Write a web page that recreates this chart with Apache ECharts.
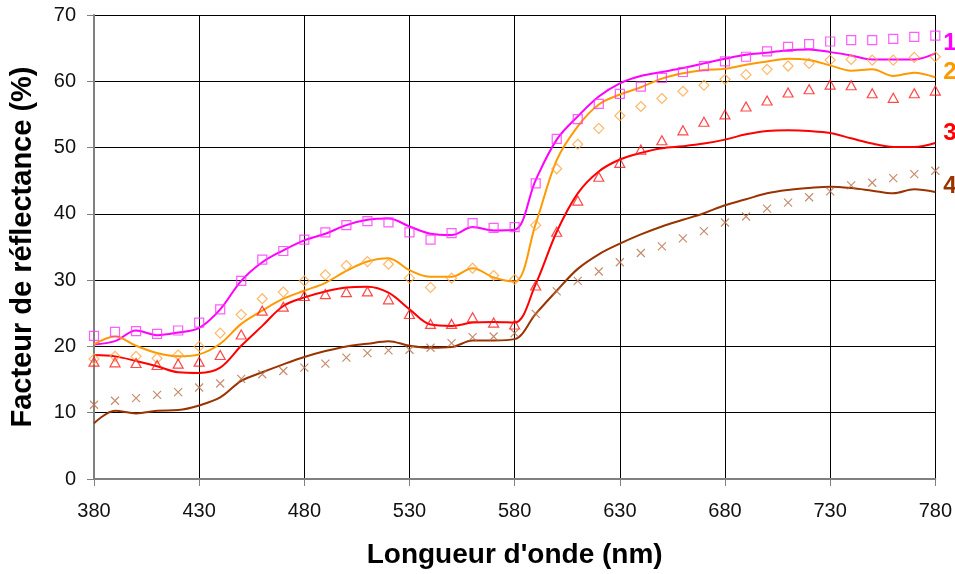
<!DOCTYPE html>
<html>
<head>
<meta charset="utf-8">
<script src="https://cdn.jsdelivr.net/npm/echarts@6/dist/echarts.min.js"></script>
<style>html,body{margin:0;padding:0;background:#fff}#c{width:955px;height:574px}</style>
</head>
<body>
<div id="c"></div>
<script>
const wavelengths = [380,390,400,410,420,430,440,450,460,470,480,490,500,510,520,530,540,550,560,570,580,590,600,610,620,630,640,650,660,670,680,690,700,710,720,730,740,750,760,770,780];
const xTicks = [380,430,480,530,580,630,680,730,780];
const yTicks = [0,10,20,30,40,50,60,70];
const seriesNames = ['1','2','3','4'];

const line1 = [20.3,20.8,22.4,21.7,22.1,22.8,25.6,29.9,32.7,34.5,36.0,37.0,38.3,39.1,39.3,38.1,37.0,36.8,38.0,37.5,37.6,45.1,51.2,54.7,57.7,59.7,60.8,61.4,62.0,62.7,63.4,64.0,64.3,64.7,64.8,64.4,63.9,63.3,63.3,63.3,64.2];
const line2 = [20.3,21.5,20.1,19.0,18.5,18.8,20.4,23.4,25.4,27.2,28.4,29.6,31.4,32.8,33.3,31.5,30.5,30.5,31.8,30.4,29.8,38.5,48.1,53.2,56.5,58.0,59.1,60.4,61.2,61.7,61.9,62.5,63.0,63.4,63.2,62.4,61.6,61.8,60.8,61.3,60.6];
const line3 = [18.7,18.5,17.8,17.0,16.1,16.0,16.8,20.1,23.1,26.1,27.4,28.3,28.9,29.0,28.1,25.6,23.3,23.1,23.6,23.7,23.6,29.4,37.3,43.1,46.4,48.2,49.2,49.9,50.2,50.6,51.2,52.0,52.5,52.6,52.5,52.2,51.4,50.6,50.1,50.1,50.7];
const line4 = [8.4,10.3,9.9,10.3,10.4,11.1,12.3,14.8,16.1,17.3,18.4,19.3,20.0,20.4,20.8,20.1,19.8,19.9,20.9,20.9,21.1,24.9,28.4,31.7,33.9,35.5,36.9,38.1,39.1,40.1,41.3,42.2,43.1,43.6,43.9,44.1,43.9,43.5,43.1,43.7,43.3];

const meas1 = [21.6,22.2,22.3,21.9,22.4,23.6,25.6,29.9,33.1,34.4,36.1,37.2,38.3,38.9,38.7,37.2,36.1,37.1,38.6,37.9,38.0,44.6,51.3,54.3,56.6,58.1,59.2,60.5,61.4,62.3,63.0,63.7,64.5,65.2,65.6,66.0,66.2,66.2,66.4,66.7,66.9];
const meas2 = [18.1,18.5,18.5,18.2,18.7,20.0,22.0,24.8,27.2,28.2,29.9,30.8,32.2,32.8,32.4,30.3,28.9,30.3,31.8,30.7,30.1,38.3,46.8,50.5,52.9,54.8,56.2,57.4,58.5,59.4,60.3,61.0,61.8,62.3,62.7,63.2,63.3,63.2,63.2,63.6,63.7];
const meas3 = [17.7,17.6,17.5,17.2,17.4,17.7,18.7,21.8,25.4,26.0,27.6,27.9,28.2,28.3,27.1,24.9,23.4,23.4,24.4,23.6,23.3,29.2,37.3,42.0,45.6,47.7,49.7,51.1,52.6,53.9,55.0,56.2,57.1,58.3,58.8,59.5,59.4,58.2,57.5,58.2,58.6];
const meas4 = [11.2,11.8,12.2,12.7,13.1,13.8,14.4,15.1,15.8,16.3,16.8,17.4,18.3,19.0,19.4,19.5,19.8,20.5,21.4,21.5,22.0,24.9,28.3,29.9,31.3,32.7,34.1,35.1,36.3,37.4,38.7,39.6,40.8,41.7,42.5,43.4,44.3,44.7,45.4,46.0,46.5];

const pair = arr => wavelengths.map((w, i) => [w, arr[i]]);

const FONT = 'Liberation Sans, Arial, sans-serif';
const lineColors = ['#ff00ff', '#ff9900', '#ff0000', '#993300'];
const markColors = ['#ff33ff', '#ffa640', '#ff1a1a', '#b8704a'];
const labelOffsets = [[0, -10], [0, -5], [0, -10], [0, -6]];
const symbols = [
  'path://M0,0H10V10H0Z',
  'path://M5,0L10,5L5,10L0,5Z',
  'path://M5,0L10,9L0,9Z',
  'path://M0,0L10,10M10,0L0,10'
];
const symbolSizes = [[9, 9], [10, 10], [10, 9], [8, 8]];

const lines = [line1, line2, line3, line4];
const meas = [meas1, meas2, meas3, meas4];

const series = [];
lines.forEach((l, i) => {
  series.push({
    type: 'line', name: 'c' + seriesNames[i], data: pair(l), smooth: 0.35,
    showSymbol: false, symbol: 'none',
    lineStyle: { color: lineColors[i], width: 2 },
    z: 3,
    endLabel: {
      show: true, formatter: seriesNames[i], color: lineColors[i],
      fontFamily: FONT, fontWeight: 'bold', fontSize: 24,
      distance: 8, offset: labelOffsets[i]
    },
    animation: false
  });
});
meas.forEach((m, i) => {
  series.push({
    type: 'scatter', name: 'm' + seriesNames[i], data: pair(m),
    symbol: symbols[i], symbolSize: symbolSizes[i], symbolKeepAspect: false,
    itemStyle: { color: 'transparent', borderColor: markColors[i], borderWidth: 1.2 },
    clip: false, z: 4, animation: false
  });
});

const chart = echarts.init(document.getElementById('c'), null, { renderer: 'canvas' });
chart.setOption({
  backgroundColor: '#ffffff',
  animation: false,
  grid: { left: 93, right: 18, top: 15, bottom: 95, containLabel: false },
  xAxis: {
    type: 'value', min: 380, max: 780, interval: 50,
    name: "Longueur d'onde (nm)", nameLocation: 'middle', nameGap: 62,
    nameTextStyle: { fontFamily: FONT, fontWeight: 'bold', fontSize: 28, color: '#000' },
    axisLine: { show: true, lineStyle: { color: '#808080', width: 2 } },
    axisTick: { show: true, length: 7, lineStyle: { color: '#808080' } },
    axisLabel: { color: '#111', fontFamily: FONT, fontSize: 20, margin: 22,
      formatter: v => xTicks.includes(v) ? String(v) : '' },
    splitLine: { show: true, lineStyle: { color: '#000', width: 1 } }
  },
  yAxis: {
    type: 'value', min: 0, max: 70, interval: 10,
    name: 'Facteur de réflectance (%)', nameLocation: 'middle', nameGap: 57, nameRotate: 90,
    nameTextStyle: { fontFamily: FONT, fontWeight: 'bold', fontSize: 29, color: '#000' },
    axisLine: { show: true, lineStyle: { color: '#808080', width: 2 } },
    axisTick: { show: true, length: 7, lineStyle: { color: '#808080' } },
    axisLabel: { color: '#111', fontFamily: FONT, fontSize: 20, margin: 18,
      formatter: v => yTicks.includes(v) ? String(v) : '' },
    splitLine: { show: true, lineStyle: { color: '#000', width: 1 } }
  },
  series: series
});
</script>
</body>
</html>
